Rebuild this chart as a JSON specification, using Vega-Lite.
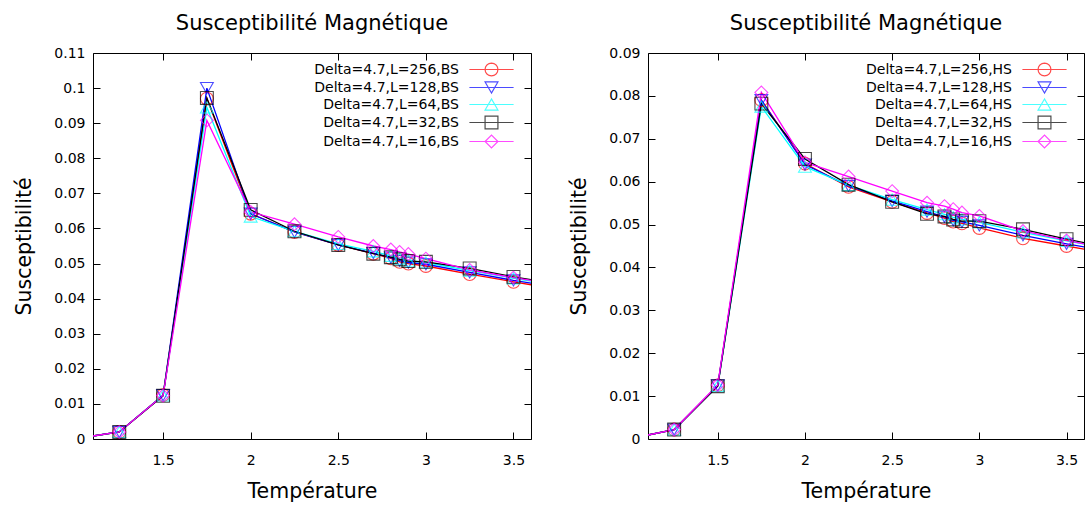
{
  "$schema": "https://vega.github.io/schema/vega-lite/v6.json",
  "background": "white",
  "padding": {"left": 14, "top": 12, "right": 0, "bottom": 0},
  "spacing": 37,
  "datasets": {
    "bs": [
      {"T":1.0,"chi":0.0001,"L":"256"},{"T":1.25,"chi":0.002,"L":"256"},{"T":1.5,"chi":0.0125,"L":"256"},{"T":1.75,"chi":0.097,"L":"256"},{"T":2.0,"chi":0.0642,"L":"256"},{"T":2.25,"chi":0.059,"L":"256"},{"T":2.5,"chi":0.0553,"L":"256"},{"T":2.7,"chi":0.0528,"L":"256"},{"T":2.8,"chi":0.0515,"L":"256"},{"T":2.85,"chi":0.0505,"L":"256"},{"T":2.9,"chi":0.05,"L":"256"},{"T":3.0,"chi":0.0493,"L":"256"},{"T":3.25,"chi":0.047,"L":"256"},{"T":3.5,"chi":0.0448,"L":"256"},{"T":3.75,"chi":0.0427,"L":"256"},
      {"T":1.0,"chi":0.0001,"L":"128"},{"T":1.25,"chi":0.002,"L":"128"},{"T":1.5,"chi":0.0125,"L":"128"},{"T":1.75,"chi":0.1,"L":"128"},{"T":2.0,"chi":0.0642,"L":"128"},{"T":2.25,"chi":0.059,"L":"128"},{"T":2.5,"chi":0.0553,"L":"128"},{"T":2.7,"chi":0.053,"L":"128"},{"T":2.8,"chi":0.0517,"L":"128"},{"T":2.85,"chi":0.0508,"L":"128"},{"T":2.9,"chi":0.0503,"L":"128"},{"T":3.0,"chi":0.0498,"L":"128"},{"T":3.25,"chi":0.0475,"L":"128"},{"T":3.5,"chi":0.0452,"L":"128"},{"T":3.75,"chi":0.0432,"L":"128"},
      {"T":1.0,"chi":0.0001,"L":"64"},{"T":1.25,"chi":0.002,"L":"64"},{"T":1.5,"chi":0.0124,"L":"64"},{"T":1.75,"chi":0.0945,"L":"64"},{"T":2.0,"chi":0.0634,"L":"64"},{"T":2.25,"chi":0.0592,"L":"64"},{"T":2.5,"chi":0.0556,"L":"64"},{"T":2.7,"chi":0.0535,"L":"64"},{"T":2.8,"chi":0.0522,"L":"64"},{"T":2.85,"chi":0.0514,"L":"64"},{"T":2.9,"chi":0.0508,"L":"64"},{"T":3.0,"chi":0.0503,"L":"64"},{"T":3.25,"chi":0.048,"L":"64"},{"T":3.5,"chi":0.0458,"L":"64"},{"T":3.75,"chi":0.0438,"L":"64"},
      {"T":1.0,"chi":0.0001,"L":"32"},{"T":1.25,"chi":0.002,"L":"32"},{"T":1.5,"chi":0.0123,"L":"32"},{"T":1.75,"chi":0.0972,"L":"32"},{"T":2.0,"chi":0.0653,"L":"32"},{"T":2.25,"chi":0.0592,"L":"32"},{"T":2.5,"chi":0.0553,"L":"32"},{"T":2.7,"chi":0.0528,"L":"32"},{"T":2.8,"chi":0.0518,"L":"32"},{"T":2.85,"chi":0.0512,"L":"32"},{"T":2.9,"chi":0.0507,"L":"32"},{"T":3.0,"chi":0.0505,"L":"32"},{"T":3.25,"chi":0.0486,"L":"32"},{"T":3.5,"chi":0.0462,"L":"32"},{"T":3.75,"chi":0.0442,"L":"32"},
      {"T":1.0,"chi":0.0001,"L":"16"},{"T":1.25,"chi":0.002,"L":"16"},{"T":1.5,"chi":0.0124,"L":"16"},{"T":1.75,"chi":0.0908,"L":"16"},{"T":2.0,"chi":0.0647,"L":"16"},{"T":2.25,"chi":0.0612,"L":"16"},{"T":2.5,"chi":0.0576,"L":"16"},{"T":2.7,"chi":0.055,"L":"16"},{"T":2.8,"chi":0.054,"L":"16"},{"T":2.85,"chi":0.0533,"L":"16"},{"T":2.9,"chi":0.0527,"L":"16"},{"T":3.0,"chi":0.0514,"L":"16"},{"T":3.25,"chi":0.0482,"L":"16"},{"T":3.5,"chi":0.046,"L":"16"},{"T":3.75,"chi":0.044,"L":"16"}
    ],
    "hs": [
      {"T":1.0,"chi":0.0001,"L":"256"},{"T":1.25,"chi":0.0022,"L":"256"},{"T":1.5,"chi":0.0125,"L":"256"},{"T":1.75,"chi":0.079,"L":"256"},{"T":2.0,"chi":0.0642,"L":"256"},{"T":2.25,"chi":0.0588,"L":"256"},{"T":2.5,"chi":0.0553,"L":"256"},{"T":2.7,"chi":0.0527,"L":"256"},{"T":2.8,"chi":0.0515,"L":"256"},{"T":2.85,"chi":0.0507,"L":"256"},{"T":2.9,"chi":0.0503,"L":"256"},{"T":3.0,"chi":0.0492,"L":"256"},{"T":3.25,"chi":0.0468,"L":"256"},{"T":3.5,"chi":0.045,"L":"256"},{"T":3.75,"chi":0.0432,"L":"256"},
      {"T":1.0,"chi":0.0001,"L":"128"},{"T":1.25,"chi":0.0022,"L":"128"},{"T":1.5,"chi":0.0125,"L":"128"},{"T":1.75,"chi":0.079,"L":"128"},{"T":2.0,"chi":0.064,"L":"128"},{"T":2.25,"chi":0.059,"L":"128"},{"T":2.5,"chi":0.0555,"L":"128"},{"T":2.7,"chi":0.053,"L":"128"},{"T":2.8,"chi":0.0518,"L":"128"},{"T":2.85,"chi":0.051,"L":"128"},{"T":2.9,"chi":0.0506,"L":"128"},{"T":3.0,"chi":0.0498,"L":"128"},{"T":3.25,"chi":0.0475,"L":"128"},{"T":3.5,"chi":0.0455,"L":"128"},{"T":3.75,"chi":0.0437,"L":"128"},
      {"T":1.0,"chi":0.0001,"L":"64"},{"T":1.25,"chi":0.0022,"L":"64"},{"T":1.5,"chi":0.0124,"L":"64"},{"T":1.75,"chi":0.0775,"L":"64"},{"T":2.0,"chi":0.0635,"L":"64"},{"T":2.25,"chi":0.0592,"L":"64"},{"T":2.5,"chi":0.0558,"L":"64"},{"T":2.7,"chi":0.0535,"L":"64"},{"T":2.8,"chi":0.0524,"L":"64"},{"T":2.85,"chi":0.0517,"L":"64"},{"T":2.9,"chi":0.0512,"L":"64"},{"T":3.0,"chi":0.0505,"L":"64"},{"T":3.25,"chi":0.0482,"L":"64"},{"T":3.5,"chi":0.0462,"L":"64"},{"T":3.75,"chi":0.0443,"L":"64"},
      {"T":1.0,"chi":0.0001,"L":"32"},{"T":1.25,"chi":0.0022,"L":"32"},{"T":1.5,"chi":0.0123,"L":"32"},{"T":1.75,"chi":0.0782,"L":"32"},{"T":2.0,"chi":0.0653,"L":"32"},{"T":2.25,"chi":0.0593,"L":"32"},{"T":2.5,"chi":0.0553,"L":"32"},{"T":2.7,"chi":0.0525,"L":"32"},{"T":2.8,"chi":0.0519,"L":"32"},{"T":2.85,"chi":0.0512,"L":"32"},{"T":2.9,"chi":0.0508,"L":"32"},{"T":3.0,"chi":0.0508,"L":"32"},{"T":3.25,"chi":0.0489,"L":"32"},{"T":3.5,"chi":0.0466,"L":"32"},{"T":3.75,"chi":0.0446,"L":"32"},
      {"T":1.0,"chi":0.0001,"L":"16"},{"T":1.25,"chi":0.0022,"L":"16"},{"T":1.5,"chi":0.0126,"L":"16"},{"T":1.75,"chi":0.0808,"L":"16"},{"T":2.0,"chi":0.0645,"L":"16"},{"T":2.25,"chi":0.0612,"L":"16"},{"T":2.5,"chi":0.0578,"L":"16"},{"T":2.7,"chi":0.0551,"L":"16"},{"T":2.8,"chi":0.0543,"L":"16"},{"T":2.85,"chi":0.0536,"L":"16"},{"T":2.9,"chi":0.0528,"L":"16"},{"T":3.0,"chi":0.052,"L":"16"},{"T":3.25,"chi":0.0485,"L":"16"},{"T":3.5,"chi":0.0463,"L":"16"},{"T":3.75,"chi":0.0443,"L":"16"}
    ]
  },
  "hconcat": [
    {
      "width": 438, "height": 386,
      "title": "Susceptibilité Magnétique",
      "data": {"name": "bs"},
      "layer": [
        {
          "mark": {"type": "line", "clip": true, "strokeWidth": 1.3},
          "encoding": {
            "x": {"field": "T", "type": "quantitative", "scale": {"domain": [1.1, 3.6], "nice": false, "zero": false},
                  "axis": {"orient": "bottom", "values": [1.5, 2, 2.5, 3, 3.5], "format": "~g", "title": "Température", "labelPadding": 21, "titlePadding": 14}},
            "y": {"field": "chi", "type": "quantitative", "scale": {"domain": [0, 0.11], "nice": false},
                  "axis": {"orient": "left", "values": [0, 0.01, 0.02, 0.03, 0.04, 0.05, 0.06, 0.07, 0.08, 0.09, 0.1, 0.11], "format": "~g", "title": "Susceptibilité", "titlePadding": 19}},
            "color": {"field": "L", "type": "nominal", "scale": {"domain": ["256", "128", "64", "32", "16"], "range": ["#ff0000", "#0000ff", "#00ffff", "#000000", "#ff00ff"]}, "legend": null}
          }
        },
        {
          "mark": {"type": "point", "clip": true, "filled": false, "size": 165, "strokeWidth": 1.1},
          "encoding": {
            "x": {"field": "T", "type": "quantitative", "axis": {"orient": "top", "values": [1.5, 2, 2.5, 3, 3.5], "labels": false, "title": null}},
            "y": {"field": "chi", "type": "quantitative", "axis": {"orient": "right", "values": [0, 0.01, 0.02, 0.03, 0.04, 0.05, 0.06, 0.07, 0.08, 0.09, 0.1, 0.11], "labels": false, "title": null}},
            "color": {"field": "L", "type": "nominal", "legend": null},
            "shape": {"field": "L", "type": "nominal", "scale": {"domain": ["256", "128", "64", "32", "16"], "range": ["circle", "triangle-down", "triangle-up", "square", "diamond"]}, "legend": null}
          }
        },
        {
          "transform": [{"filter": "false"}],
          "mark": {"type": "point", "filled": false, "size": 165, "strokeWidth": 1.2},
          "encoding": {
            "color": {"field": "L", "type": "nominal", "legend": {"title": null, "orient": "none", "legendX": 391, "legendY": 9, "labelExpr": "'Delta=4.7,L=' + datum.label + ',BS'"}},
            "shape": {"field": "L", "type": "nominal",
                      "scale": {"domain": ["256", "128", "64", "32", "16"], "range": [
                        "M-3.44,0H3.44M1,0L0.924,0.383L0.707,0.707L0.383,0.924L0,1L-0.383,0.924L-0.707,0.707L-0.924,0.383L-1,0L-0.924,-0.383L-0.707,-0.707L-0.383,-0.924L0,-1L0.383,-0.924L0.707,-0.707L0.924,-0.383Z",
                        "M-3.44,0H3.44M0,0.866L-1,-0.866L1,-0.866Z",
                        "M-3.44,0H3.44M0,-0.866L-1,0.866L1,0.866Z",
                        "M-3.44,0H3.44M-1,-1H1V1H-1Z",
                        "M-3.44,0H3.44M-1,0L0,-1L1,0L0,1Z"]},
                      "legend": {"title": null, "orient": "none", "legendX": 391, "legendY": 9, "labelExpr": "'Delta=4.7,L=' + datum.label + ',BS'"}}
          }
        }
      ],
      "resolve": {"axis": {"x": "independent", "y": "independent"}, "scale": {"shape": "independent"}, "legend": {"color": "independent", "shape": "independent"}}
    },
    {
      "width": 436, "height": 386,
      "title": "Susceptibilité Magnétique",
      "data": {"name": "hs"},
      "layer": [
        {
          "mark": {"type": "line", "clip": true, "strokeWidth": 1.3},
          "encoding": {
            "x": {"field": "T", "type": "quantitative", "scale": {"domain": [1.1, 3.6], "nice": false, "zero": false},
                  "axis": {"orient": "bottom", "values": [1.5, 2, 2.5, 3, 3.5], "format": "~g", "title": "Température", "labelPadding": 21, "titlePadding": 14}},
            "y": {"field": "chi", "type": "quantitative", "scale": {"domain": [0, 0.09], "nice": false},
                  "axis": {"orient": "left", "values": [0, 0.01, 0.02, 0.03, 0.04, 0.05, 0.06, 0.07, 0.08, 0.09], "format": "~g", "title": "Susceptibilité", "titlePadding": 19}},
            "color": {"field": "L", "type": "nominal", "scale": {"domain": ["256", "128", "64", "32", "16"], "range": ["#ff0000", "#0000ff", "#00ffff", "#000000", "#ff00ff"]}, "legend": null}
          }
        },
        {
          "mark": {"type": "point", "clip": true, "filled": false, "size": 165, "strokeWidth": 1.1},
          "encoding": {
            "x": {"field": "T", "type": "quantitative", "axis": {"orient": "top", "values": [1.5, 2, 2.5, 3, 3.5], "labels": false, "title": null}},
            "y": {"field": "chi", "type": "quantitative", "axis": {"orient": "right", "values": [0, 0.01, 0.02, 0.03, 0.04, 0.05, 0.06, 0.07, 0.08, 0.09], "labels": false, "title": null}},
            "color": {"field": "L", "type": "nominal", "legend": null},
            "shape": {"field": "L", "type": "nominal", "scale": {"domain": ["256", "128", "64", "32", "16"], "range": ["circle", "triangle-down", "triangle-up", "square", "diamond"]}, "legend": null}
          }
        },
        {
          "transform": [{"filter": "false"}],
          "mark": {"type": "point", "filled": false, "size": 165, "strokeWidth": 1.2},
          "encoding": {
            "color": {"field": "L", "type": "nominal", "legend": {"title": null, "orient": "none", "legendX": 389, "legendY": 9, "labelExpr": "'Delta=4.7,L=' + datum.label + ',HS'"}},
            "shape": {"field": "L", "type": "nominal",
                      "scale": {"domain": ["256", "128", "64", "32", "16"], "range": [
                        "M-3.44,0H3.44M1,0L0.924,0.383L0.707,0.707L0.383,0.924L0,1L-0.383,0.924L-0.707,0.707L-0.924,0.383L-1,0L-0.924,-0.383L-0.707,-0.707L-0.383,-0.924L0,-1L0.383,-0.924L0.707,-0.707L0.924,-0.383Z",
                        "M-3.44,0H3.44M0,0.866L-1,-0.866L1,-0.866Z",
                        "M-3.44,0H3.44M0,-0.866L-1,0.866L1,0.866Z",
                        "M-3.44,0H3.44M-1,-1H1V1H-1Z",
                        "M-3.44,0H3.44M-1,0L0,-1L1,0L0,1Z"]},
                      "legend": {"title": null, "orient": "none", "legendX": 389, "legendY": 9, "labelExpr": "'Delta=4.7,L=' + datum.label + ',HS'"}}
          }
        }
      ],
      "resolve": {"axis": {"x": "independent", "y": "independent"}, "scale": {"shape": "independent"}, "legend": {"color": "independent", "shape": "independent"}}
    }
  ],
  "resolve": {"scale": {"color": "independent", "shape": "independent"}, "legend": {"color": "independent", "shape": "independent"}},
  "config": {
    "font": "DejaVu Sans",
    "view": {"stroke": "#000000", "strokeWidth": 1},
    "title": {"fontSize": 21, "fontWeight": "normal", "font": "DejaVu Sans", "color": "#000", "offset": 12},
    "axis": {"grid": false, "domain": false, "tickSize": -7, "tickColor": "#000", "tickWidth": 1, "labelFont": "DejaVu Sans", "labelFontSize": 14, "labelColor": "#000", "labelPadding": 15, "titleFont": "DejaVu Sans", "titleFontSize": 20.5, "titleFontWeight": "normal", "titleColor": "#000"},
    "legend": {"labelFont": "DejaVu Sans", "labelFontSize": 14, "labelColor": "#000", "labelAlign": "right", "labelOffset": -40, "symbolSize": 165, "symbolStrokeWidth": 1.2, "rowPadding": 0, "symbolFillColor": "transparent", "padding": 0}
  }
}
